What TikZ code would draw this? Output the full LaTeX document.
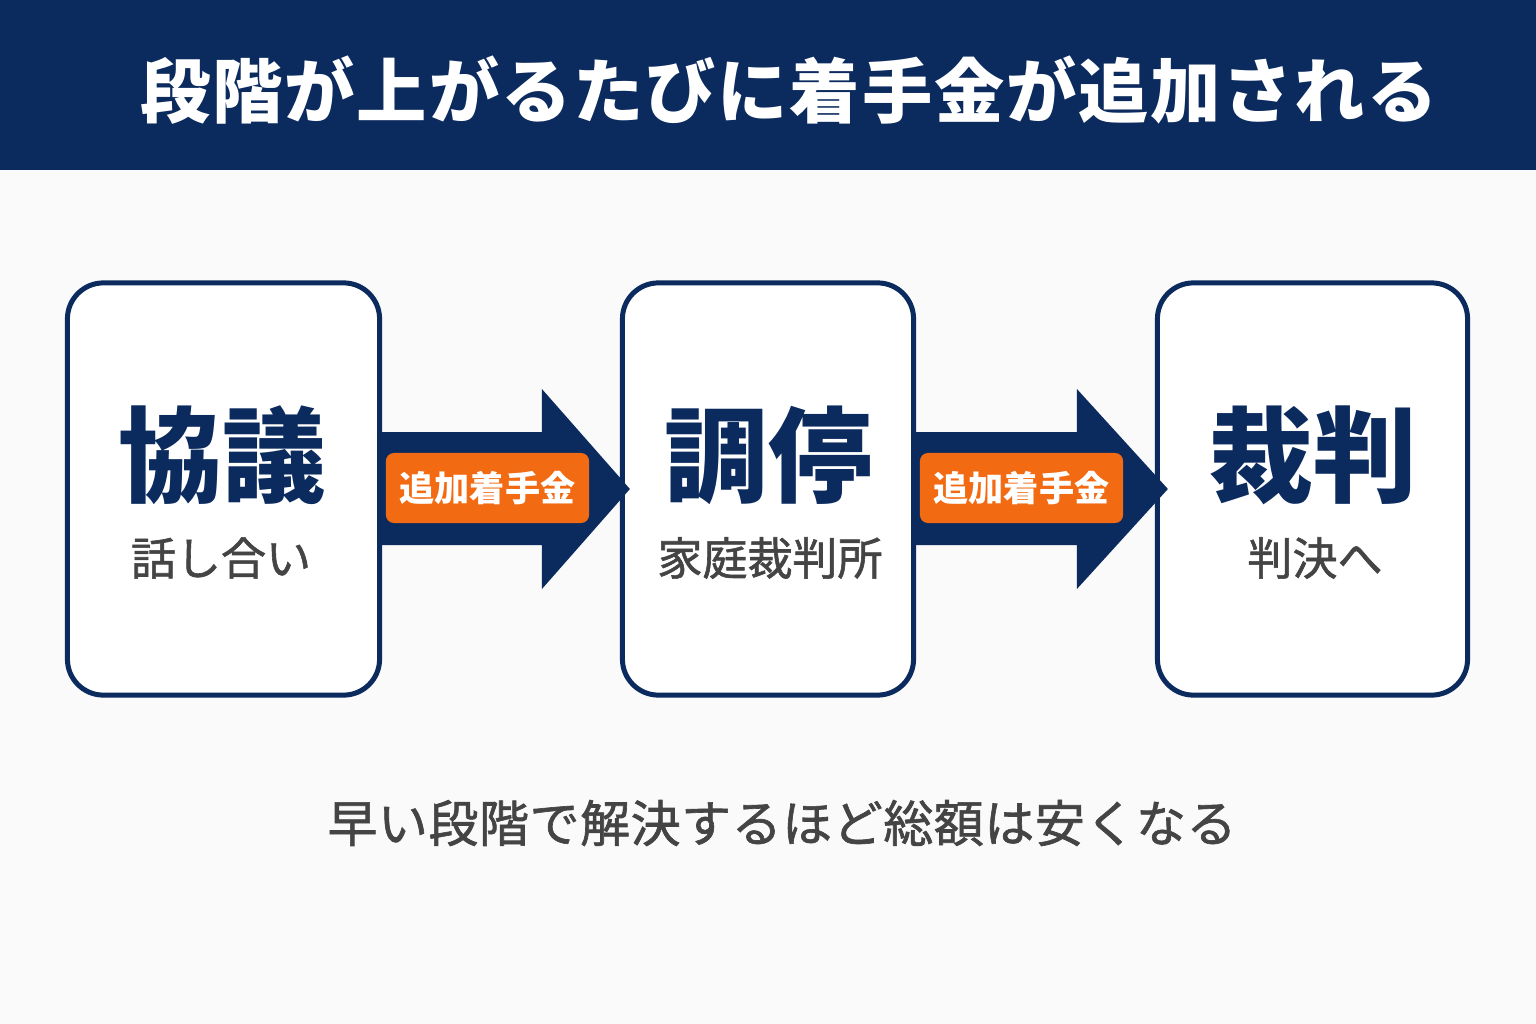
\documentclass[tikz,border=0pt]{standalone}
\usepackage{fontspec}
\newfontfamily\jpfont{Noto Sans CJK JP}
\newfontfamily\jpmid[FakeBold=1.3]{Noto Sans CJK JP}
\usetikzlibrary{calc}
\definecolor{navy}{HTML}{0B2A5E}
\definecolor{badgeorange}{HTML}{F26B12}
\definecolor{subgray}{HTML}{444444}
\definecolor{paper}{HTML}{FAFAFB}
\tikzset{
  stage/.style={draw=navy,line width=0.05cm,rounded corners=0.36cm,fill=white,
    minimum height=4.12cm,inner sep=0pt},
  maintext/.style={text=navy,font=\jpfont\bfseries\fontsize{29.5}{30}\selectfont},
  subtext/.style={text=subgray,font=\jpmid\fontsize{12.8}{13}\selectfont},
  badge/.style={fill=badgeorange,rounded corners=0.08cm,minimum width=2.03cm,
    minimum height=0.7cm,inner sep=0pt,text=white,
    font=\jpfont\bfseries\fontsize{10}{11}\selectfont}
}
\begin{document}
\begin{tikzpicture}[x=0.01cm,y=-0.01cm]
\useasboundingbox (0,0) rectangle (1536,1024);
\fill[paper] (0,0) rectangle (1536,1024);
% title band
\fill[navy] (0,0) rectangle (1536,170);
\node[text=white,font=\jpfont\bfseries\fontsize{20}{22}\selectfont\addfontfeatures{LetterSpace=2.6}] (title) at (789,90) {段階が上がるたびに着手金が追加される};
% stages
\node[stage,minimum width=3.12cm] (kyogi) at (223.5,489) {};
\node[stage,minimum width=2.91cm] (chotei) at (768,489) {};
\node[stage,minimum width=3.10cm] (saiban) at (1312.5,489) {};
\node[maintext] (kyogit) at (222,455) {協議};
\node[subtext] (kyogis) at (221,558) {話し合い};
\node[maintext] (choteit) at (768,455) {調停};
\node[subtext] (choteis) at (770,558) {家庭裁判所};
\node[maintext] (saibant) at (1313,455) {裁判};
\node[subtext] (saibans) at (1315,558) {判決へ};
% arrows
\fill[navy] ($(kyogi.east)+(0,-57)$) -- ($(chotei.west)+(-78,-57)$) -- ($(chotei.west)+(-78,-100)$)
  -- ($(chotei.west)+(10,0)$) -- ($(chotei.west)+(-78,100)$) -- ($(chotei.west)+(-78,56)$)
  -- ($(kyogi.east)+(0,56)$) -- cycle;
\fill[navy] ($(chotei.east)+(0,-57)$) -- ($(saiban.west)+(-78,-57)$) -- ($(saiban.west)+(-78,-100)$)
  -- ($(saiban.west)+(13,0)$) -- ($(saiban.west)+(-78,100)$) -- ($(saiban.west)+(-78,56)$)
  -- ($(chotei.east)+(0,56)$) -- cycle;
\node[badge] (fee1) at (487.5,488) {追加着手金};
\node[badge] (fee2) at (1021.5,488) {追加着手金};
% note
\node[text=subgray,font=\jpmid\fontsize{14.2}{15}\selectfont\addfontfeatures{LetterSpace=1.2}] (note) at (782,823) {早い段階で解決するほど総額は安くなる};
\end{tikzpicture}
\end{document}
